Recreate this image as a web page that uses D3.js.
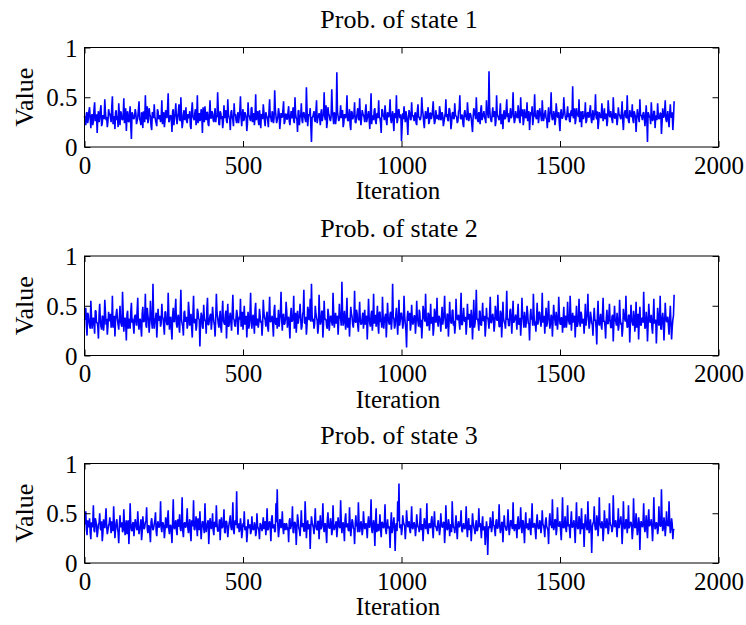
<!DOCTYPE html>
<html>
<head>
<meta charset="utf-8">
<script src="https://cdn.jsdelivr.net/npm/d3@7"></script>
<style>
  html, body { margin: 0; padding: 0; background: #fff; }
  svg { display: block; }
  text { font-family: "Liberation Serif", "Times New Roman", serif; fill: #000; }
</style>
</head>
<body>
<svg id="chart" width="746" height="625"></svg>
<script>
// ---- Data ----
// "A" arrays: iterations 0,4,8,...,1860 ; "B" arrays: iterations 2,6,10,...,1858
const iterationStep = 2;
const xTicks = [0, 500, 1000, 1500, 2000];
const yTicks = [0, 0.5, 1];
const titles = ["Prob. of state 1", "Prob. of state 2", "Prob. of state 3"];

const state1A = [
0.31,0.22,0.35,0.28,0.40,0.19,0.33,0.26,0.45,0.30,0.14,0.36,0.29,0.42,0.24,0.31,0.48,0.27,0.20,0.38,
0.33,0.25,0.51,0.29,0.18,0.37,0.31,0.44,0.22,0.34,0.27,0.49,0.30,0.16,0.36,0.25,0.41,0.08,0.33,0.28,
0.38,0.23,0.30,0.46,0.26,0.35,0.19,0.32,0.52,0.28,0.24,0.39,0.31,0.17,0.34,0.43,0.27,0.21,0.36,0.30,
0.25,0.47,0.33,0.20,0.37,0.29,0.54,0.26,0.32,0.15,0.38,0.30,0.44,0.23,0.35,0.28,0.50,0.19,0.33,0.27,
0.40,0.24,0.31,0.36,0.18,0.45,0.29,0.34,0.22,0.52,0.30,0.26,0.38,0.14,0.33,0.41,0.27,0.35,0.21,0.47,
0.29,0.34,0.25,0.39,0.31,0.55,0.23,0.36,0.28,0.19,0.42,0.32,0.26,0.48,0.30,0.17,0.37,0.27,0.44,0.33,
0.24,0.35,0.30,0.51,0.21,0.38,0.28,0.33,0.16,0.45,0.31,0.26,0.40,0.29,0.22,0.53,0.34,0.27,0.37,0.19,
0.32,0.43,0.26,0.35,0.30,0.20,0.48,0.29,0.36,0.24,0.57,0.31,0.27,0.39,0.18,0.34,0.30,0.46,0.25,0.33,
0.28,0.41,0.22,0.36,0.31,0.26,0.50,0.29,0.15,0.37,0.32,0.44,0.24,0.35,0.28,0.60,0.21,0.33,0.39,0.05,
0.30,0.36,0.25,0.47,0.29,0.34,0.22,0.38,0.31,0.55,0.27,0.19,0.40,0.32,0.26,0.58,0.30,0.35,0.23,0.75,
0.31,0.28,0.42,0.36,0.20,0.33,0.29,0.52,0.26,0.38,0.17,0.35,0.30,0.45,0.24,0.34,0.28,0.49,0.22,0.37,
0.32,0.25,0.43,0.29,0.36,0.18,0.54,0.31,0.27,0.39,0.23,0.34,0.47,0.29,0.14,0.37,0.31,0.42,0.26,0.35,
0.30,0.48,0.24,0.36,0.16,0.33,0.52,0.27,0.38,0.29,0.06,0.34,0.41,0.25,0.31,0.12,0.37,0.28,0.45,0.32,
0.26,0.35,0.22,0.43,0.30,0.28,0.50,0.33,0.19,0.36,0.29,0.40,0.25,0.34,0.31,0.46,0.23,0.37,0.28,0.32,
0.41,0.27,0.35,0.21,0.30,0.48,0.33,0.26,0.38,0.18,0.34,0.29,0.44,0.31,0.24,0.36,0.52,0.28,0.32,0.20,
0.37,0.30,0.45,0.26,0.34,0.29,0.15,0.39,0.32,0.50,0.27,0.35,0.23,0.42,0.30,0.36,0.28,0.47,0.33,0.76,
0.30,0.25,0.40,0.35,0.21,0.52,0.31,0.27,0.44,0.33,0.18,0.37,0.29,0.48,0.34,0.26,0.39,0.31,0.55,0.24,
0.36,0.30,0.42,0.27,0.50,0.33,0.22,0.38,0.29,0.45,0.32,0.17,0.35,0.41,0.28,0.53,0.30,0.36,0.24,0.39,
0.31,0.47,0.26,0.34,0.29,0.19,0.40,0.33,0.55,0.27,0.36,0.22,0.44,0.30,0.35,0.16,0.38,0.29,0.50,0.32,
0.27,0.41,0.34,0.25,0.37,0.61,0.30,0.23,0.39,0.33,0.48,0.28,0.20,0.36,0.31,0.45,0.26,0.35,0.30,0.42,
0.24,0.37,0.32,0.53,0.28,0.18,0.35,0.30,0.44,0.26,0.39,0.33,0.21,0.47,0.31,0.36,0.27,0.50,0.29,0.34,
0.22,0.40,0.32,0.28,0.46,0.17,0.35,0.30,0.52,0.26,0.37,0.31,0.43,0.24,0.33,0.15,0.38,0.29,0.48,0.32,
0.27,0.35,0.21,0.42,0.05,0.33,0.30,0.45,0.26,0.36,0.19,0.31,0.44,0.28,0.34,0.13,0.39,0.30,0.47,0.25,
0.36,0.20,0.43,0.30,0.17,0.46
];
const state1B = [
0.27,0.34,0.24,0.36,0.29,0.31,0.22,0.38,0.26,0.33,0.30,0.25,0.37,0.21,0.32,0.28,0.35,0.30,0.26,0.34,
0.29,0.40,0.23,0.31,0.35,0.27,0.20,0.33,0.36,0.28,0.31,0.24,0.39,0.30,0.26,0.33,0.22,0.35,0.29,0.31,
0.34,0.26,0.37,0.28,0.22,0.32,0.36,0.25,0.30,0.41,0.27,0.33,0.21,0.35,0.29,0.31,0.24,0.38,0.28,0.32,
0.30,0.23,0.35,0.27,0.33,0.39,0.25,0.31,0.28,0.36,0.22,0.34,0.29,0.30,0.43,0.26,0.32,0.24,0.37,0.30,
0.26,0.33,0.29,0.21,0.36,0.31,0.27,0.38,0.30,0.24,0.34,0.28,0.32,0.40,0.25,0.30,0.35,0.23,0.33,0.29,
0.36,0.27,0.32,0.25,0.30,0.38,0.22,0.34,0.31,0.26,0.29,0.37,0.24,0.33,0.28,0.35,0.30,0.21,0.32,0.27,
0.31,0.24,0.37,0.29,0.33,0.26,0.35,0.30,0.23,0.32,0.28,0.39,0.25,0.34,0.30,0.27,0.36,0.22,0.31,0.33,
0.28,0.35,0.21,0.32,0.27,0.36,0.30,0.25,0.33,0.29,0.38,0.24,0.31,0.34,0.26,0.30,0.37,0.23,0.33,0.28,
0.35,0.26,0.31,0.29,0.40,0.24,0.33,0.28,0.36,0.22,0.30,0.27,0.34,0.31,0.25,0.38,0.29,0.32,0.21,0.30,
0.33,0.27,0.36,0.24,0.31,0.29,0.35,0.26,0.32,0.30,0.42,0.25,0.34,0.28,0.31,0.37,0.23,0.33,0.29,0.35,
0.26,0.32,0.29,0.37,0.24,0.30,0.34,0.27,0.31,0.22,0.36,0.28,0.33,0.25,0.30,0.39,0.27,0.32,0.29,0.34,
0.30,0.36,0.25,0.32,0.28,0.35,0.23,0.31,0.37,0.26,0.33,0.29,0.30,0.24,0.38,0.31,0.27,0.34,0.22,0.32,
0.35,0.28,0.31,0.26,0.34,0.29,0.24,0.37,0.30,0.33,0.21,0.28,0.32,0.36,0.25,0.30,0.34,0.27,0.31,0.29,
0.33,0.24,0.36,0.30,0.27,0.32,0.38,0.25,0.31,0.29,0.35,0.23,0.34,0.28,0.37,0.30,0.26,0.33,0.31,0.27,
0.36,0.29,0.32,0.25,0.34,0.30,0.27,0.39,0.31,0.24,0.35,0.28,0.33,0.30,0.26,0.37,0.29,0.32,0.23,0.34,
0.31,0.27,0.35,0.29,0.33,0.22,0.30,0.36,0.28,0.34,0.25,0.31,0.38,0.27,0.33,0.30,0.24,0.35,0.29,0.40,
0.27,0.33,0.30,0.36,0.26,0.32,0.29,0.35,0.23,0.31,0.34,0.28,0.37,0.30,0.25,0.33,0.29,0.36,0.31,0.27,
0.32,0.29,0.35,0.24,0.31,0.38,0.27,0.33,0.30,0.26,0.36,0.29,0.32,0.22,0.34,0.31,0.28,0.37,0.30,0.33,
0.26,0.34,0.30,0.37,0.28,0.32,0.25,0.35,0.31,0.29,0.33,0.27,0.36,0.30,0.23,0.34,0.29,0.32,0.38,0.28,
0.33,0.30,0.26,0.35,0.31,0.29,0.39,0.27,0.32,0.30,0.25,0.36,0.33,0.28,0.31,0.24,0.34,0.30,0.37,0.29,
0.31,0.27,0.34,0.30,0.36,0.25,0.32,0.29,0.35,0.31,0.28,0.33,0.26,0.37,0.30,0.32,0.24,0.35,0.29,0.31,
0.28,0.33,0.30,0.35,0.26,0.31,0.37,0.29,0.32,0.24,0.34,0.30,0.27,0.36,0.31,0.28,0.33,0.25,0.32,0.30,
0.34,0.29,0.31,0.26,0.35,0.30,0.23,0.33,0.28,0.36,0.31,0.27,0.32,0.29,0.34,0.25,0.30,0.36,0.28,0.31,
0.27,0.33,0.30,0.35,0.29
];

const state2A = [
0.36,0.48,0.20,0.41,0.30,0.55,0.27,0.38,0.22,0.45,0.33,0.17,0.52,0.29,0.40,0.25,0.56,0.31,0.21,0.44,
0.35,0.28,0.60,0.33,0.19,0.42,0.36,0.26,0.50,0.31,0.64,0.24,0.38,0.15,0.45,0.32,0.27,0.53,0.37,0.22,
0.41,0.30,0.58,0.26,0.36,0.19,0.49,0.34,0.62,0.28,0.40,0.23,0.55,0.33,0.72,0.27,0.38,0.18,0.47,0.35,
0.29,0.52,0.37,0.21,0.44,0.31,0.63,0.26,0.39,0.16,0.48,0.34,0.57,0.28,0.41,0.23,0.66,0.32,0.20,0.45,
0.36,0.27,0.54,0.30,0.42,0.18,0.60,0.33,0.25,0.47,0.37,0.09,0.43,0.29,0.51,0.35,0.22,0.58,0.31,0.40,
0.26,0.49,0.34,0.19,0.62,0.38,0.28,0.45,0.23,0.55,0.33,0.40,0.17,0.52,0.30,0.43,0.25,0.61,0.36,0.29,
0.46,0.21,0.39,0.57,0.32,0.26,0.50,0.35,0.18,0.44,0.30,0.63,0.27,0.41,0.22,0.53,0.36,0.28,0.47,0.33,
0.20,0.56,0.38,0.29,0.44,0.24,0.59,0.34,0.40,0.19,0.51,0.31,0.27,0.46,0.37,0.64,0.25,0.42,0.32,0.54,
0.28,0.39,0.17,0.48,0.35,0.60,0.30,0.23,0.45,0.37,0.52,0.26,0.41,0.66,0.32,0.21,0.49,0.36,0.57,0.72,
0.34,0.27,0.50,0.38,0.22,0.61,0.31,0.44,0.18,0.55,0.36,0.29,0.47,0.25,0.40,0.33,0.63,0.28,0.43,0.35,
0.21,0.52,0.37,0.74,0.30,0.45,0.26,0.58,0.34,0.19,0.49,0.39,0.28,0.65,0.33,0.42,0.24,0.54,0.31,0.38,
0.27,0.46,0.35,0.16,0.57,0.32,0.41,0.25,0.62,0.36,0.29,0.50,0.22,0.44,0.34,0.59,0.27,0.39,0.18,0.53,
0.33,0.42,0.26,0.72,0.37,0.30,0.48,0.21,0.56,0.35,0.43,0.27,0.60,0.32,0.08,0.45,0.36,0.25,0.51,0.31,
0.40,0.22,0.55,0.34,0.46,0.28,0.17,0.50,0.37,0.62,0.30,0.43,0.25,0.52,0.35,0.20,0.47,0.33,0.58,0.29,
0.38,0.24,0.49,0.36,0.60,0.27,0.42,0.19,0.54,0.33,0.45,0.30,0.22,0.57,0.36,0.41,0.26,0.63,0.31,0.48,
0.34,0.21,0.52,0.39,0.28,0.46,0.16,0.56,0.32,0.66,0.37,0.25,0.44,0.30,0.53,0.35,0.19,0.48,0.38,0.27,
0.59,0.33,0.42,0.24,0.50,0.36,0.61,0.29,0.45,0.18,0.54,0.34,0.27,0.65,0.37,0.30,0.47,0.22,0.55,0.35,
0.41,0.26,0.52,0.33,0.20,0.58,0.36,0.44,0.28,0.50,0.32,0.15,0.47,0.39,0.62,0.30,0.24,0.53,0.35,0.43,
0.29,0.63,0.37,0.22,0.48,0.33,0.55,0.27,0.41,0.19,0.51,0.35,0.44,0.26,0.59,0.32,0.38,0.23,0.49,0.36,
0.28,0.54,0.34,0.60,0.25,0.43,0.37,0.18,0.50,0.31,0.57,0.29,0.41,0.35,0.22,0.52,0.38,0.62,0.27,0.44,
0.33,0.20,0.48,0.36,0.11,0.55,0.30,0.42,0.26,0.58,0.35,0.17,0.46,0.32,0.52,0.28,0.39,0.14,0.50,0.34,
0.43,0.25,0.56,0.31,0.19,0.47,0.37,0.60,0.28,0.40,0.13,0.51,0.33,0.45,0.24,0.54,0.36,0.16,0.49,0.30,
0.38,0.64,0.27,0.44,0.14,0.52,0.33,0.41,0.22,0.57,0.35,0.12,0.48,0.30,0.60,0.26,0.43,0.15,0.53,0.34,
0.39,0.21,0.50,0.16,0.36,0.61
];
const state2B = [
0.38,0.30,0.43,0.34,0.27,0.40,0.36,0.31,0.45,0.33,0.29,0.41,0.35,0.26,0.39,0.32,0.44,0.37,0.30,0.35,
0.42,0.33,0.28,0.40,0.36,0.47,0.31,0.38,0.34,0.29,0.43,0.35,0.32,0.41,0.27,0.37,0.44,0.33,0.30,0.39,
0.35,0.45,0.31,0.37,0.28,0.42,0.34,0.39,0.30,0.48,0.36,0.33,0.41,0.27,0.38,0.35,0.43,0.31,0.36,0.40,
0.33,0.39,0.29,0.44,0.35,0.31,0.41,0.37,0.26,0.40,0.34,0.46,0.32,0.38,0.30,0.42,0.36,0.29,0.43,0.34,
0.39,0.31,0.45,0.35,0.28,0.41,0.33,0.37,0.30,0.44,0.36,0.32,0.40,0.27,0.38,0.34,0.47,0.31,0.36,0.42,
0.34,0.40,0.30,0.37,0.43,0.32,0.38,0.28,0.41,0.35,0.31,0.45,0.36,0.29,0.39,0.33,0.42,0.37,0.30,0.38,
0.41,0.33,0.36,0.29,0.44,0.37,0.31,0.40,0.34,0.27,0.42,0.35,0.38,0.32,0.46,0.30,0.37,0.33,0.40,0.35,
0.31,0.43,0.36,0.39,0.28,0.41,0.34,0.37,0.30,0.45,0.33,0.38,0.35,0.29,0.42,0.36,0.40,0.31,0.37,0.44,
0.36,0.30,0.41,0.34,0.38,0.27,0.43,0.35,0.32,0.40,0.37,0.29,0.44,0.33,0.39,0.31,0.46,0.36,0.34,0.41,
0.37,0.32,0.42,0.35,0.29,0.40,0.34,0.45,0.31,0.38,0.36,0.27,0.41,0.33,0.39,0.30,0.43,0.36,0.32,0.40,
0.34,0.39,0.30,0.44,0.36,0.33,0.41,0.28,0.38,0.35,0.42,0.31,0.37,0.34,0.46,0.30,0.39,0.35,0.32,0.43,
0.36,0.31,0.40,0.34,0.38,0.29,0.45,0.35,0.32,0.41,0.37,0.30,0.43,0.34,0.28,0.39,0.36,0.42,0.33,0.38,
0.31,0.44,0.35,0.39,0.27,0.41,0.34,0.37,0.30,0.42,0.36,0.33,0.40,0.25,0.38,0.35,0.43,0.31,0.37,0.34,
0.40,0.33,0.37,0.29,0.42,0.36,0.31,0.45,0.34,0.38,0.30,0.41,0.35,0.32,0.39,0.28,0.43,0.36,0.33,0.40,
0.35,0.38,0.31,0.43,0.36,0.29,0.41,0.34,0.37,0.32,0.46,0.35,0.30,0.40,0.36,0.33,0.44,0.31,0.38,0.35,
0.39,0.32,0.36,0.42,0.30,0.37,0.34,0.28,0.41,0.36,0.33,0.45,0.31,0.38,0.35,0.40,0.29,0.37,0.34,0.43,
0.33,0.40,0.36,0.31,0.44,0.35,0.38,0.29,0.42,0.34,0.37,0.32,0.41,0.36,0.30,0.45,0.35,0.39,0.33,0.37,
0.36,0.42,0.31,0.38,0.34,0.40,0.28,0.37,0.35,0.43,0.32,0.39,0.36,0.30,0.41,0.34,0.38,0.31,0.44,0.35,
0.38,0.33,0.40,0.35,0.29,0.43,0.36,0.32,0.39,0.34,0.41,0.30,0.37,0.35,0.42,0.31,0.38,0.36,0.28,0.40,
0.34,0.37,0.31,0.42,0.36,0.33,0.40,0.35,0.29,0.38,0.34,0.44,0.32,0.37,0.35,0.30,0.41,0.36,0.33,0.39,
0.31,0.38,0.35,0.27,0.40,0.33,0.36,0.30,0.42,0.34,0.29,0.37,0.32,0.39,0.35,0.28,0.41,0.33,0.36,0.30,
0.35,0.30,0.38,0.33,0.27,0.40,0.34,0.37,0.29,0.41,0.32,0.36,0.30,0.39,0.33,0.28,0.42,0.35,0.31,0.37,
0.33,0.39,0.29,0.36,0.31,0.41,0.34,0.28,0.38,0.32,0.36,0.30,0.40,0.33,0.27,0.37,0.35,0.31,0.39,0.34,
0.30,0.37,0.33,0.28,0.40
];

const state3A = [
0.40,0.52,0.28,0.37,0.45,0.24,0.36,0.58,0.31,0.42,0.26,0.39,0.50,0.33,0.22,0.44,0.35,0.55,0.29,0.38,
0.46,0.30,0.36,0.57,0.25,0.41,0.34,0.20,0.48,0.37,0.31,0.54,0.28,0.43,0.36,0.19,0.60,0.33,0.40,0.27,
0.44,0.35,0.52,0.29,0.38,0.23,0.47,0.34,0.41,0.56,0.30,0.37,0.21,0.45,0.33,0.39,0.51,0.27,0.42,0.36,
0.62,0.31,0.40,0.25,0.46,0.35,0.53,0.29,0.38,0.20,0.64,0.34,0.43,0.28,0.37,0.49,0.32,0.66,0.26,0.41,
0.36,0.55,0.30,0.44,0.22,0.39,0.63,0.33,0.47,0.27,0.38,0.52,0.24,0.42,0.35,0.60,0.31,0.40,0.19,0.45,
0.34,0.50,0.28,0.41,0.58,0.32,0.37,0.23,0.46,0.36,0.54,0.30,0.42,0.26,0.39,0.48,0.33,0.61,0.29,0.43,
0.72,0.37,0.31,0.45,0.25,0.40,0.52,0.34,0.21,0.44,0.36,0.29,0.47,0.33,0.41,0.27,0.50,0.35,0.24,0.39,
0.32,0.46,0.37,0.28,0.55,0.34,0.42,0.22,0.48,0.36,0.31,0.60,0.74,0.26,0.44,0.35,0.52,0.29,0.38,0.40,
0.33,0.21,0.45,0.37,0.57,0.30,0.41,0.18,0.49,0.35,0.27,0.53,0.39,0.32,0.62,0.25,0.43,0.36,0.14,0.47,
0.38,0.29,0.55,0.34,0.42,0.24,0.48,0.36,0.60,0.31,0.40,0.20,0.51,0.35,0.45,0.28,0.58,0.33,0.39,0.26,
0.46,0.36,0.63,0.30,0.41,0.22,0.50,0.37,0.33,0.56,0.27,0.44,0.35,0.19,0.48,0.39,0.61,0.31,0.42,0.28,
0.52,0.34,0.40,0.25,0.47,0.36,0.64,0.30,0.43,0.17,0.55,0.38,0.32,0.49,0.26,0.41,0.35,0.59,0.29,0.44,
0.37,0.15,0.51,0.33,0.46,0.12,0.40,0.62,0.80,0.35,0.28,0.48,0.39,0.24,0.53,0.36,0.42,0.30,0.57,0.34,
0.41,0.27,0.49,0.36,0.31,0.55,0.38,0.22,0.45,0.34,0.60,0.29,0.40,0.35,0.47,0.25,0.52,0.37,0.32,0.43,
0.28,0.50,0.36,0.41,0.20,0.58,0.33,0.44,0.27,0.39,0.62,0.35,0.30,0.48,0.24,0.42,0.37,0.53,0.31,0.40,
0.34,0.57,0.26,0.45,0.38,0.22,0.50,0.36,0.29,0.43,0.33,0.55,0.40,0.25,0.47,0.35,0.18,0.42,0.08,0.37,
0.46,0.31,0.52,0.38,0.27,0.44,0.35,0.59,0.30,0.41,0.21,0.48,0.36,0.33,0.54,0.28,0.43,0.37,0.61,0.32,
0.39,0.25,0.47,0.35,0.56,0.30,0.42,0.20,0.51,0.37,0.33,0.45,0.28,0.60,0.36,0.40,0.24,0.49,0.34,0.43,
0.30,0.53,0.38,0.26,0.46,0.35,0.19,0.50,0.40,0.64,0.33,0.44,0.28,0.56,0.37,0.42,0.23,0.66,0.35,0.47,
0.31,0.58,0.39,0.25,0.52,0.36,0.43,0.20,0.61,0.34,0.47,0.29,0.55,0.38,0.16,0.49,0.35,0.62,0.30,0.44,
0.10,0.40,0.57,0.33,0.48,0.27,0.66,0.37,0.42,0.22,0.53,0.35,0.45,0.29,0.60,0.38,0.31,0.68,0.36,0.43,
0.26,0.55,0.39,0.47,0.19,0.62,0.34,0.44,0.30,0.58,0.37,0.41,0.24,0.65,0.35,0.50,0.28,0.46,0.13,0.42,
0.36,0.60,0.31,0.48,0.25,0.54,0.38,0.44,0.22,0.66,0.34,0.41,0.29,0.57,0.37,0.74,0.32,0.46,0.27,0.52,
0.38,0.62,0.30,0.45,0.24,0.33
];
const state3B = [
0.39,0.34,0.43,0.36,0.31,0.41,0.38,0.33,0.45,0.37,0.32,0.40,0.35,0.42,0.30,0.38,0.44,0.36,0.33,0.40,
0.37,0.42,0.32,0.39,0.35,0.44,0.31,0.38,0.36,0.41,0.33,0.40,0.37,0.29,0.43,0.35,0.39,0.32,0.41,0.36,
0.40,0.33,0.38,0.35,0.44,0.31,0.39,0.36,0.42,0.34,0.38,0.30,0.41,0.37,0.35,0.43,0.32,0.39,0.36,0.40,
0.35,0.41,0.37,0.33,0.39,0.45,0.34,0.38,0.31,0.42,0.36,0.40,0.33,0.44,0.37,0.35,0.41,0.32,0.39,0.36,
0.42,0.35,0.39,0.31,0.43,0.37,0.34,0.40,0.36,0.45,0.33,0.38,0.35,0.41,0.30,0.39,0.37,0.43,0.34,0.40,
0.37,0.33,0.41,0.36,0.39,0.32,0.44,0.38,0.35,0.40,0.31,0.42,0.37,0.34,0.43,0.36,0.39,0.33,0.41,0.38,
0.35,0.40,0.34,0.38,0.31,0.36,0.33,0.37,0.30,0.35,0.39,0.32,0.36,0.34,0.38,0.31,0.37,0.33,0.40,0.35,
0.38,0.34,0.42,0.37,0.33,0.40,0.36,0.44,0.35,0.39,0.32,0.41,0.37,0.34,0.43,0.38,0.35,0.40,0.33,0.39,
0.36,0.42,0.34,0.39,0.31,0.41,0.37,0.35,0.43,0.33,0.38,0.36,0.40,0.32,0.44,0.37,0.34,0.39,0.36,0.41,
0.35,0.40,0.37,0.33,0.42,0.38,0.34,0.41,0.36,0.39,0.31,0.43,0.37,0.35,0.40,0.33,0.38,0.36,0.42,0.34,
0.39,0.35,0.41,0.37,0.33,0.44,0.36,0.40,0.32,0.38,0.35,0.42,0.34,0.39,0.37,0.31,0.41,0.36,0.38,0.34,
0.41,0.37,0.34,0.40,0.36,0.43,0.33,0.38,0.35,0.42,0.31,0.39,0.37,0.34,0.41,0.36,0.40,0.33,0.38,0.35,
0.33,0.38,0.30,0.40,0.35,0.37,0.32,0.42,0.36,0.39,0.34,0.41,0.37,0.35,0.43,0.38,0.33,0.40,0.36,0.39,
0.37,0.34,0.40,0.36,0.42,0.33,0.39,0.35,0.41,0.37,0.32,0.38,0.36,0.43,0.34,0.40,0.37,0.35,0.39,0.36,
0.34,0.39,0.36,0.41,0.33,0.38,0.35,0.40,0.37,0.31,0.42,0.36,0.39,0.34,0.38,0.36,0.41,0.33,0.37,0.35,
0.38,0.35,0.40,0.33,0.37,0.36,0.41,0.34,0.39,0.32,0.38,0.36,0.35,0.40,0.33,0.37,0.30,0.36,0.32,0.35,
0.40,0.36,0.38,0.33,0.42,0.35,0.39,0.37,0.34,0.41,0.36,0.38,0.33,0.40,0.37,0.35,0.42,0.34,0.39,0.36,
0.37,0.41,0.34,0.39,0.36,0.43,0.33,0.38,0.35,0.40,0.37,0.34,0.42,0.36,0.39,0.32,0.41,0.37,0.35,0.40,
0.36,0.39,0.34,0.41,0.37,0.33,0.42,0.38,0.35,0.40,0.36,0.43,0.34,0.39,0.37,0.32,0.41,0.36,0.38,0.35,
0.40,0.37,0.34,0.42,0.36,0.39,0.33,0.41,0.38,0.35,0.43,0.37,0.34,0.40,0.36,0.39,0.33,0.42,0.37,0.35,
0.36,0.41,0.38,0.34,0.43,0.37,0.40,0.35,0.39,0.33,0.42,0.36,0.38,0.34,0.41,0.37,0.35,0.44,0.38,0.36,
0.39,0.35,0.42,0.37,0.34,0.40,0.36,0.43,0.38,0.35,0.41,0.37,0.33,0.42,0.36,0.39,0.34,0.40,0.37,0.38,
0.41,0.36,0.39,0.34,0.43,0.37,0.40,0.35,0.38,0.42,0.36,0.39,0.34,0.41,0.37,0.44,0.35,0.40,0.36,0.38,
0.37,0.42,0.35,0.39,0.34
];

// Merge the two sample sets into one chronological series (A at 4k, B at 4k+2)
function mergeSamples(a, b) {
  const out = [];
  a.forEach((v, i) => { out.push(v); if (i < b.length) out.push(b[i]); });
  return out;
}
const seriesList = [
  mergeSamples(state1A, state1B),
  mergeSamples(state2A, state2B),
  mergeSamples(state3A, state3B)
];

// ---- Layout ----
const svg = d3.select("#chart");
const left = 84.5, right = 718.5;
const panelTops = [47.5, 256, 463.5];
const panelHeight = 99.5;
const tickLen = 6;

const x = d3.scaleLinear().domain([0, 2000]).range([left, right]);

seriesList.forEach((vals, k) => {
  const top = panelTops[k], bottom = top + panelHeight;
  const y = d3.scaleLinear().domain([0, 1]).range([bottom, top]);
  const g = svg.append("g");

  const line = d3.line()
    .x((d, i) => x(i * iterationStep))
    .y(d => y(d));
  g.append("path")
    .datum(vals)
    .attr("d", line)
    .attr("fill", "none")
    .attr("stroke", "#0000ff")
    .attr("stroke-width", 1.6)
    .attr("stroke-linejoin", "bevel");

  const xb = d3.axisBottom(x).tickValues(xTicks).tickSize(-tickLen).tickFormat(d3.format("d"));
  const gxb = g.append("g").attr("transform", `translate(0,${bottom})`).call(xb);
  gxb.select(".domain").remove();
  gxb.selectAll(".tick line").attr("stroke", "#000");
  gxb.selectAll(".tick text")
    .attr("y", 26.5).attr("dy", null)
    .style("font-size", "25px");

  const xt = d3.axisTop(x).tickValues(xTicks).tickSize(-tickLen).tickFormat("");
  const gxt = g.append("g").attr("transform", `translate(0,${top})`).call(xt);
  gxt.select(".domain").remove();
  gxt.selectAll(".tick line").attr("stroke", "#000");

  const yl = d3.axisLeft(y).tickValues(yTicks).tickSize(-tickLen).tickFormat(d => d === 0.5 ? "0.5" : d3.format("d")(d));
  const gyl = g.append("g").attr("transform", `translate(${left},0)`).call(yl);
  gyl.select(".domain").remove();
  gyl.selectAll(".tick line").attr("stroke", "#000");
  gyl.selectAll(".tick text").attr("x", -7).attr("dy", "0.34em").style("font-size", "25px");

  const yr = d3.axisRight(y).tickValues(yTicks).tickSize(-tickLen).tickFormat("");
  const gyr = g.append("g").attr("transform", `translate(${right},0)`).call(yr);
  gyr.select(".domain").remove();
  gyr.selectAll(".tick line").attr("stroke", "#000");

  g.append("rect")
    .attr("x", left).attr("y", top)
    .attr("width", right - left).attr("height", panelHeight)
    .attr("fill", "none").attr("stroke", "#000").attr("stroke-width", 1);

  g.append("text")
    .attr("x", 399).attr("y", top - 19.5)
    .attr("text-anchor", "middle")
    .style("font-size", "26px")
    .text(titles[k]);

  g.append("text")
    .attr("x", 398).attr("y", bottom + 52)
    .attr("text-anchor", "middle")
    .style("font-size", "25px")
    .text("Iteration");

  g.append("text")
    .attr("transform", `translate(33,${(top + bottom) / 2}) rotate(-90)`)
    .attr("text-anchor", "middle")
    .style("font-size", "26px")
    .text("Value");
});
</script>
</body>
</html>
